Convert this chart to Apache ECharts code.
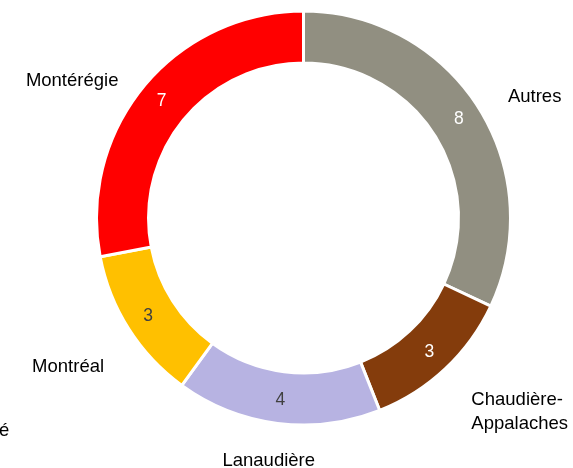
<!DOCTYPE html>
<html>
<head>
<meta charset="utf-8" />
<title>Répartition par région</title>
<script src="https://cdn.jsdelivr.net/npm/echarts@6/dist/echarts.min.js"></script>
<style>
  html, body { margin: 0; padding: 0; background: #fff; }
  #main { width: 573px; height: 468px; }
</style>
</head>
<body>
<div id="main"></div>
<script>
// donnees
var regions = ['Autres', 'Chaudière-Appalaches', 'Lanaudière', 'Montréal', 'Montérégie'];
var valeurs = [8, 3, 4, 3, 7];
var couleurs = ['#918F81', '#843C0C', '#B7B3E2', '#FFC000', '#FF0000'];
var couleursTexte = ['#ffffff', '#ffffff', '#404040', '#404040', '#ffffff'];

var donnees = [];
for (var i = 0; i < regions.length; i++) {
  donnees.push({
    name: regions[i],
    value: valeurs[i],
    itemStyle: { color: couleurs[i] },
    label: { color: couleursTexte[i] }
  });
}

// petits decalages des noms (placement a la Excel)
var decalages = [[-7, 5], [-6, 23], [54, 10], [12, 23], [9, 13]];

var myChart = echarts.init(document.getElementById('main'));
var police = '"Liberation Sans", Arial, Helvetica, sans-serif';

var option = {
  animation: false,
  textStyle: { fontFamily: police },
  graphic: [{
    type: 'text',
    left: -1,
    top: 421,
    style: { text: 'é', font: '18.5px ' + police, fill: '#000' }
  }],
  series: [
    {
      // anneau + valeurs
      type: 'pie',
      center: [303.5, 218],
      radius: [155, 207],
      startAngle: 90,
      clockwise: true,
      avoidLabelOverlap: false,
      itemStyle: { borderColor: '#fff', borderWidth: 3 },
      label: {
        show: true,
        position: 'inside',
        fontSize: 17.5,
        formatter: '{c}'
      },
      labelLine: { show: false },
      emphasis: { disabled: true },
      data: donnees
    },
    {
      // noms des regions a l'exterieur
      type: 'pie',
      center: [303.5, 218],
      radius: [155, 207],
      startAngle: 90,
      clockwise: true,
      avoidLabelOverlap: false,
      silent: true,
      itemStyle: { color: 'rgba(0,0,0,0)' },
      label: {
        show: true,
        position: 'outside',
        color: '#000',
        fontSize: 18.5,
        lineHeight: 24,
        formatter: function (p) { return p.name.replace('-', '-\n'); }
      },
      labelLine: { show: false, length: 28, length2: 8 },
      labelLayout: function (p) {
        var d = decalages[p.dataIndex];
        return { dx: d[0], dy: d[1] };
      },
      data: regions.map(function (n, i) { return { name: n, value: valeurs[i] }; })
    }
  ]
};

myChart.setOption(option);
</script>
</body>
</html>
